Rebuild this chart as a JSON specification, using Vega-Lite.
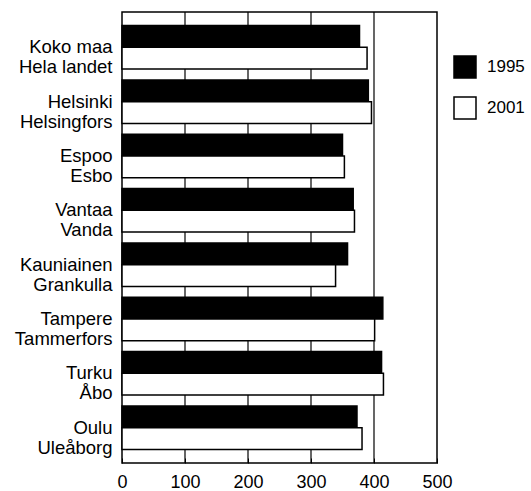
{
  "$schema": "https://vega.github.io/schema/vega-lite/v6.json",
  "width": 315,
  "height": 451,
  "autosize": {"type": "none"},
  "padding": {"left": 122, "top": 12, "right": 94, "bottom": 28},
  "background": "white",
  "config": {
    "view": {"stroke": "black", "strokeWidth": 1.5},
    "font": "Liberation Sans"
  },
  "datasets": {
    "bars": [
      {"city": "Koko maa|Hela landet", "year": "1995", "value": 377},
      {"city": "Koko maa|Hela landet", "year": "2001", "value": 389},
      {"city": "Helsinki|Helsingfors", "year": "1995", "value": 391},
      {"city": "Helsinki|Helsingfors", "year": "2001", "value": 396},
      {"city": "Espoo|Esbo", "year": "1995", "value": 350},
      {"city": "Espoo|Esbo", "year": "2001", "value": 353},
      {"city": "Vantaa|Vanda", "year": "1995", "value": 367},
      {"city": "Vantaa|Vanda", "year": "2001", "value": 369},
      {"city": "Kauniainen|Grankulla", "year": "1995", "value": 358},
      {"city": "Kauniainen|Grankulla", "year": "2001", "value": 339},
      {"city": "Tampere|Tammerfors", "year": "1995", "value": 414},
      {"city": "Tampere|Tammerfors", "year": "2001", "value": 401},
      {"city": "Turku|Åbo", "year": "1995", "value": 412},
      {"city": "Turku|Åbo", "year": "2001", "value": 415},
      {"city": "Oulu|Uleåborg", "year": "1995", "value": 373},
      {"city": "Oulu|Uleåborg", "year": "2001", "value": 381}
    ],
    "gridlines": [
      {"value": 100},
      {"value": 200},
      {"value": 300},
      {"value": 400}
    ]
  },
  "layer": [
    {
      "data": {"name": "gridlines"},
      "mark": {"type": "rule", "color": "black", "strokeWidth": 1.2},
      "encoding": {
        "x": {"field": "value", "type": "quantitative"}
      }
    },
    {
      "data": {"name": "bars"},
      "mark": {"type": "bar", "stroke": "black", "strokeWidth": 1.5},
      "encoding": {
        "y": {
          "field": "city",
          "type": "nominal",
          "sort": null,
          "scale": {"paddingInner": 0.2, "paddingOuter": 0.25},
          "axis": {
            "title": null,
            "ticks": false,
            "domain": false,
            "grid": false,
            "labelPadding": 10,
            "labelFontSize": 18.5,
            "labelLineHeight": 20,
            "labelLimit": 0,
            "labelColor": "black",
            "labelExpr": "split(datum.label, '|')"
          }
        },
        "yOffset": {
          "field": "year",
          "type": "nominal",
          "scale": {"paddingInner": 0, "paddingOuter": 0}
        },
        "x": {
          "field": "value",
          "type": "quantitative",
          "scale": {"domain": [0, 500], "nice": false},
          "axis": {
            "title": null,
            "values": [0, 50, 100, 150, 200, 250, 300, 350, 400, 450, 500],
            "domain": false,
            "ticks": true,
            "tickSize": -5,
            "tickColor": "black",
            "tickWidth": 1,
            "grid": false,
            "labelExpr": "datum.value % 100 === 0 ? datum.label : ''",
            "labelFontSize": 18,
            "labelColor": "black",
            "labelPadding": 15,
            "labelOverlap": false,
            "labelFlush": false
          }
        },
        "fill": {
          "field": "year",
          "type": "nominal",
          "scale": {"domain": ["1995", "2001"], "range": ["black", "white"]},
          "legend": {
            "title": null,
            "orient": "none",
            "legendX": 331,
            "legendY": 43,
            "padding": 0,
            "symbolType": "square",
            "symbolSize": 484,
            "symbolStrokeColor": "black",
            "symbolStrokeWidth": 1.5,
            "labelFontSize": 17,
            "labelColor": "black",
            "labelOffset": 10,
            "rowPadding": 13
          }
        }
      }
    }
  ]
}
